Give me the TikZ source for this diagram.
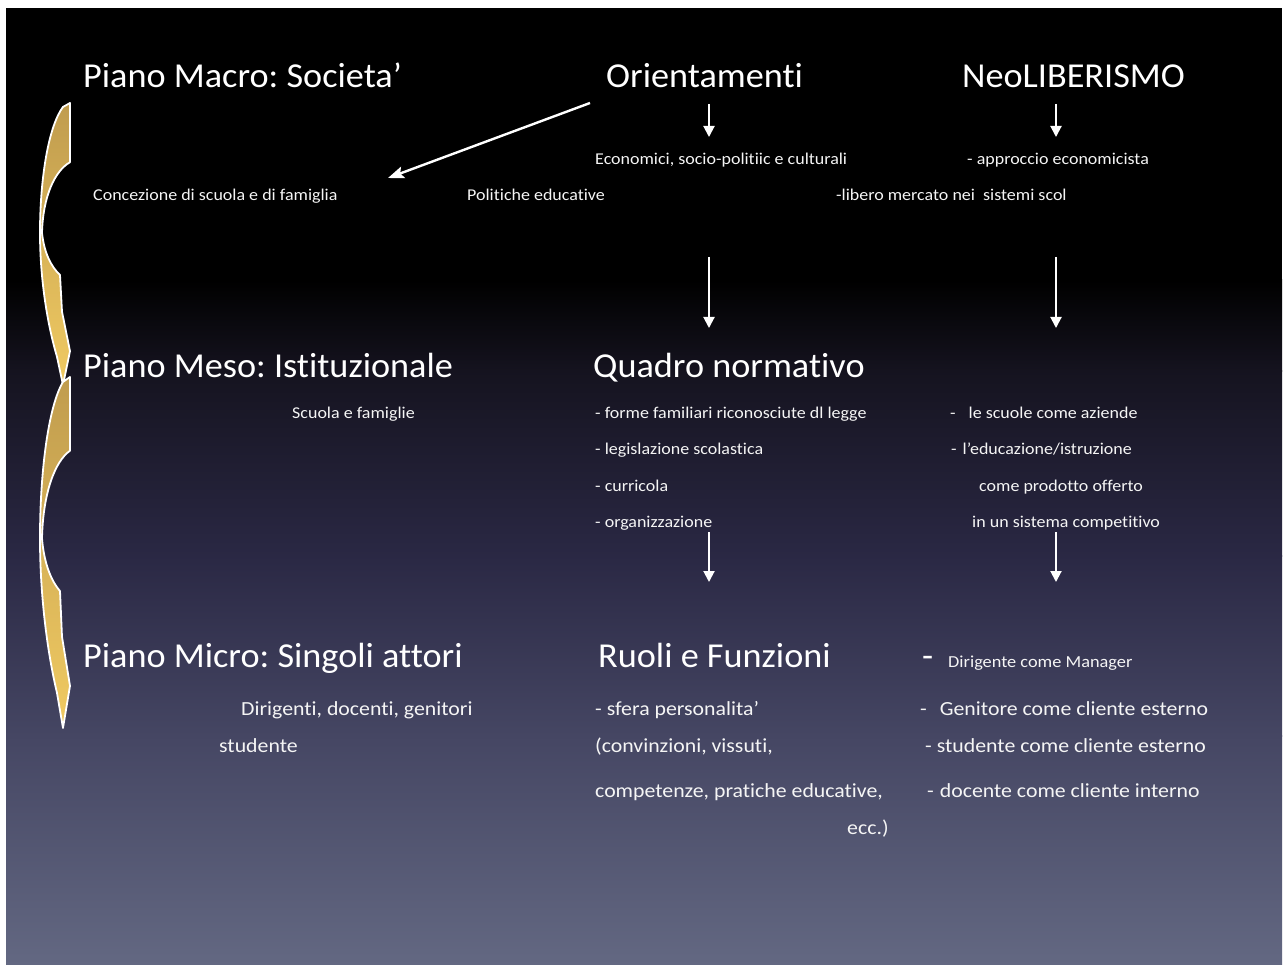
\documentclass[tikz,border=0pt]{standalone}
\usepackage{fontspec}
\setmainfont[Ligatures={NoCommon}]{Carlito}
\newfontfamily\ttlfont[FakeStretch=1.035, Ligatures={NoCommon}]{Carlito}
\newfontfamily\bdyfont[FakeStretch=1.09, Ligatures={NoCommon}]{Carlito}
\usetikzlibrary{arrows.meta}
\definecolor{bgA}{RGB}{21,19,31}
\definecolor{bgB}{RGB}{42,40,68}
\definecolor{bgC}{RGB}{69,70,99}
\definecolor{bgD}{RGB}{99,104,130}
\definecolor{goldA}{RGB}{192,156,78}
\definecolor{goldB}{RGB}{240,202,98}
\definecolor{txt}{RGB}{245,245,245}
\newcommand\goldarrow[2]{%
  \begin{scope}[shift={(0,#1)}, yscale=#2]
    \shade[top color=goldA, bottom color=goldB, draw=white, line width=1.8pt, line join=round]
      (70,0) -- (70,0.21)
      .. controls (55,0.24) and (43,0.33) .. (42,0.46)
      .. controls (44,0.53) and (51,0.58) .. (60,0.61)
      -- (62,0.74) -- (70,0.88) -- (63,1.0) -- (57,0.9)
      .. controls (47,0.78) and (40,0.62) .. (40,0.46)
      .. controls (40,0.26) and (49,0.08) .. (63,0.014) -- cycle;
  \end{scope}}
\frenchspacing
\begin{document}
\begin{tikzpicture}[x=1pt,y=-1pt,
  title/.style={anchor=base west, inner sep=0, text=white, font=\ttlfont\fontsize{35}{40}\selectfont},
  small/.style={anchor=base west, inner sep=0, text=txt, font=\bdyfont\fontsize{16.5}{20}\selectfont},
  mid/.style={anchor=base west, inner sep=0, text=txt, font=\bdyfont\fontsize{20}{24}\selectfont},
  dirig/.style={anchor=base west, inner sep=0, text=txt, font=\bdyfont\fontsize{16.8}{20}\selectfont},
  arr/.style={draw=white, line width=2pt, -{Triangle[width=11pt,length=11pt]}}]
\useasboundingbox (0,0) rectangle (1284,965);
\fill[white] (0,0) rectangle (1284,965);
\fill[black] (6,8) rectangle (1282,281);
\shade[top color=black, bottom color=bgA] (6,280) rectangle (1282,371);
\shade[top color=bgA, bottom color=bgB] (6,370) rectangle (1282,556);
\shade[top color=bgB, bottom color=bgC] (6,555) rectangle (1282,736);
\shade[top color=bgC, bottom color=bgD] (6,735) rectangle (1282,965);

\goldarrow{103}{282}
\goldarrow{377}{351}

% row 1
\node[title] (macro) at (83,88) {Piano Macro: Societa’};
\node[title] (orient) at (606,88) {Orientamenti};
\node[title] (neolib) at (962,88) {NeoLIBERISMO};
\node[small] (econ) at (595,165) {Economici, socio-politiic e culturali};
\node[small] (approc) at (967,165) {- approccio economicista};
\node[small] (conc) at (93,201) {Concezione di scuola e di famiglia};
\node[small] (polit) at (467,201) {Politiche educative};
\node[small] (libero) at (836,201) {-libero mercato nei\ \ sistemi scol};

% row 2
\node[title] (meso) at (83,377) {Piano Meso: Istituzionale};
\node[title] (quadro) at (593,377) {Quadro normativo};
\node[small] (scuola) at (292,418) {Scuola e famiglie};
\node[small] (forme) at (595,418) {- forme familiari riconosciute dl legge};
\node[small] (legis) at (595,454) {- legislazione scolastica};
\node[small] (curr) at (595,491) {- curricola};
\node[small] (org) at (595,527) {- organizzazione};
\node[small] (aziende) at (950,418) {-\hspace{13pt}le scuole come aziende};
\node[small] (educ) at (951,454) {-\hspace{6pt}l’educazione/istruzione};
\node[small] (prod) at (979,491) {come prodotto offerto};
\node[small] (sist) at (972,527) {in un sistema competitivo};

% row 3
\node[title] (micro) at (83,667) {Piano Micro: Singoli attori};
\node[title] (ruoli) at (598,667) {Ruoli e Funzioni};
\node[title] (bigdash) at (922,667) {-};
\node[dirig] (dirige) at (948,667) {Dirigente come Manager};
\node[mid] (attori) at (241,715) {Dirigenti, docenti, genitori};
\node[mid] (stud) at (219,752) {studente};
\node[mid] (sfera) at (595,715) {- sfera personalita’};
\node[mid] (conv) at (595,752) {(convinzioni, vissuti,};
\node[mid] (comp) at (595,797) {competenze, pratiche educative,};
\node[mid] (ecc) at (847,834) {ecc.)};
\node[mid] (genit) at (920,715) {-\hspace{13pt}Genitore come cliente esterno};
\node[mid] (studc) at (925,752) {-\hspace{5pt}studente come cliente esterno};
\node[mid] (docc) at (927,797) {-\hspace{6pt}docente come cliente interno};

% connectors
\coordinate (d0s) at (590,103); \coordinate (d0e) at (388,178);
\coordinate (o1s) at (709,104); \coordinate (o1e) at (709,137);
\coordinate (n1s) at (1056,104); \coordinate (n1e) at (1056,137);
\coordinate (o2s) at (709,257); \coordinate (o2e) at (709,328);
\coordinate (n2s) at (1056,257); \coordinate (n2e) at (1056,328);
\coordinate (o3s) at (709,532); \coordinate (o3e) at (709,582);
\coordinate (n3s) at (1056,532); \coordinate (n3e) at (1056,582);
\draw[draw=white, line width=2.4pt, -{Stealth[width=12pt,length=16pt,inset=3pt]}] (d0s) -- (d0e);
\foreach \a in {o1,n1,o2,n2,o3,n3} \draw[arr] (\a s) -- (\a e);
\end{tikzpicture}
\end{document}
